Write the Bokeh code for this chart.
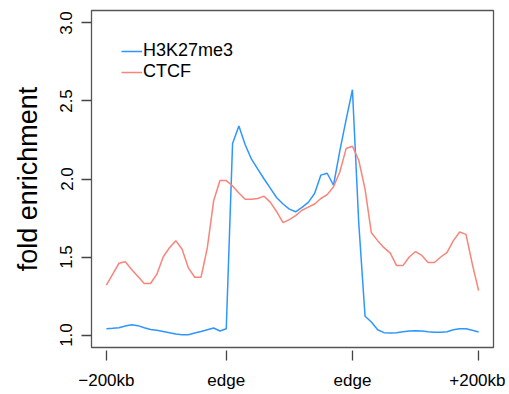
from bokeh.plotting import figure
from bokeh.models import Range1d, FixedTicker, Legend, LegendItem
from bokeh.embed import file_html
from bokeh.resources import INLINE

positions = list(range(1, 61))
h3k27me3 = [1.040, 1.043, 1.047, 1.058, 1.066, 1.060, 1.047, 1.036, 1.030, 1.023,
            1.015, 1.006, 1.002, 1.002, 1.013, 1.023, 1.034, 1.045, 1.026, 1.040,
            2.227, 2.340, 2.220, 2.127, 2.063, 2.000, 1.940, 1.880, 1.840, 1.807,
            1.790, 1.818, 1.850, 1.907, 2.025, 2.037, 1.960, 2.180, 2.380, 2.572,
            1.720, 1.120, 1.083, 1.034, 1.015, 1.013, 1.015, 1.021, 1.026, 1.028,
            1.026, 1.021, 1.017, 1.017, 1.021, 1.034, 1.040, 1.040, 1.030, 1.019]
ctcf = [1.320, 1.390, 1.460, 1.470, 1.420, 1.375, 1.330, 1.330, 1.390, 1.500,
        1.560, 1.605, 1.550, 1.430, 1.370, 1.370, 1.560, 1.860, 1.990, 1.990,
        1.955, 1.910, 1.870, 1.870, 1.875, 1.890, 1.850, 1.790, 1.720, 1.740,
        1.765, 1.800, 1.820, 1.840, 1.875, 1.900, 1.950, 2.045, 2.195, 2.210,
        2.120, 1.935, 1.655, 1.605, 1.560, 1.525, 1.445, 1.445, 1.500, 1.535,
        1.510, 1.465, 1.465, 1.500, 1.530, 1.605, 1.660, 1.645, 1.455, 1.285]

x_ticks = [1, 20, 40, 60]
x_tick_labels = ["\u2212200kb", "edge", "edge", "+200kb"]
y_ticks = [1.0, 1.5, 2.0, 2.5, 3.0]
y_tick_labels = ["1.0", "1.5", "2.0", "2.5", "3.0"]
series_names = ["H3K27me3", "CTCF"]
series_colors = ["#2E96FF", "#F8847A"]

FONT = "Liberation Sans"

p = figure(width=505, height=392, output_backend="svg", toolbar_location=None,
           x_range=Range1d(-1.36, 62.36), y_range=Range1d(0.92, 3.08),
           min_border_left=91, min_border_right=12, min_border_top=10, min_border_bottom=45)
p.grid.visible = False
p.outline_line_color = "#555555"
p.outline_line_width = 1.3
p.background_fill_color = "white"
p.border_fill_color = "white"

r1 = p.line(positions, h3k27me3, line_color=series_colors[0], line_width=1.5)
r2 = p.line(positions, ctcf, line_color=series_colors[1], line_width=1.5)

# x axis
xa = p.xaxis[0]
xa.ticker = FixedTicker(ticks=x_ticks)
xa.major_label_overrides = {t: l for t, l in zip(x_ticks, x_tick_labels)}
xa.axis_line_color = None
xa.minor_tick_line_color = None
xa.major_tick_line_color = "#444444"
xa.major_tick_line_width = 1.3
xa.major_tick_in = -3
xa.major_tick_out = 13
xa.major_label_standoff = 10
xa.major_label_text_font = FONT
xa.major_label_text_font_size = "17px"
xa.major_label_text_color = "black"

# y axis
ya = p.yaxis[0]
ya.ticker = FixedTicker(ticks=y_ticks)
ya.major_label_overrides = {t: l for t, l in zip(y_ticks, y_tick_labels)}
ya.axis_line_color = None
ya.minor_tick_line_color = None
ya.major_tick_line_color = "#444444"
ya.major_tick_line_width = 1.3
ya.major_tick_in = 0
ya.major_tick_out = 10
ya.major_label_orientation = "vertical"
ya.major_label_standoff = 9
ya.major_label_text_font = FONT
ya.major_label_text_font_size = "17px"
ya.major_label_text_color = "black"
ya.axis_label = "fold enrichment"
ya.axis_label_text_font = FONT
ya.axis_label_text_font_style = "normal"
ya.axis_label_text_font_size = "27px"
ya.axis_label_text_color = "black"
ya.axis_label_standoff = 15

legend = Legend(items=[LegendItem(label=series_names[0], renderers=[r1]),
                       LegendItem(label=series_names[1], renderers=[r2])],
                location="top_left", margin=30, padding=0, spacing=0,
                glyph_width=21, glyph_height=20, label_height=20,
                label_standoff=1, label_text_font=FONT, label_text_font_size="18px",
                label_text_color="black",
                background_fill_alpha=0, border_line_alpha=0)
p.add_layout(legend)

open("out.html", "w").write(file_html(p, INLINE))
